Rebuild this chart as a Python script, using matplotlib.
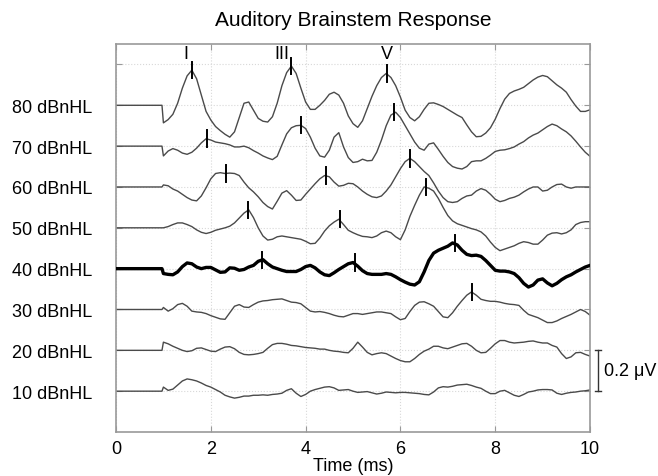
"""Auditory brainstem response waveforms stacked by stimulus level."""

from __future__ import annotations

import matplotlib

matplotlib.use('Agg')
import matplotlib.pyplot as plt
import matplotlib.transforms as mtransforms
import numpy as np

plt.rcParams['font.family'] = ['Liberation Sans', 'DejaVu Sans']

# Amplitudes are in units of the scale bar (1 unit = 0.2 uV), one sample every 0.1 ms.
ONSET_MS = 0.97
TIME_MS = np.round(np.arange(1.0, 10.001, 0.1), 1)
SCALE_UV = 0.2

LEVELS = ['80 dBnHL', '70 dBnHL', '60 dBnHL', '50 dBnHL',
          '40 dBnHL', '30 dBnHL', '20 dBnHL', '10 dBnHL']
HIGHLIGHT = '40 dBnHL'

WAVE_80 = [
    -0.43, -0.35, -0.22, 0.05, 0.42, 0.72, 0.86, 0.65, 0.25, -0.15,
    -0.36, -0.52, -0.62, -0.71, -0.78, -0.65, -0.30, 0.05, 0.08, -0.12,
    -0.32, -0.39, -0.41, -0.28, 0.05, 0.48, 0.80, 0.96, 0.78, 0.42,
    0.08, -0.10, -0.10, 0.00, 0.12, 0.27, 0.32, 0.25, 0.05, -0.26,
    -0.45, -0.54, -0.38, -0.08, 0.22, 0.48, 0.68, 0.78, 0.68, 0.48,
    0.20, -0.12, -0.30, -0.38, -0.28, -0.10, 0.05, 0.06, 0.02, -0.03,
    -0.10, -0.17, -0.24, -0.30, -0.48, -0.65, -0.77, -0.76, -0.68, -0.55,
    -0.34, -0.08, 0.15, 0.29, 0.35, 0.39, 0.44, 0.53, 0.62, 0.69,
    0.73, 0.70, 0.60, 0.50, 0.42, 0.32, 0.14, -0.02, -0.15, -0.15,
    -0.11,
]
WAVE_70 = [
    -0.24, -0.12, -0.06, -0.10, -0.17, -0.20, -0.15, -0.05, 0.08, 0.18,
    0.15, 0.10, 0.08, 0.06, 0.03, -0.02, -0.02, 0.00, -0.04, -0.11,
    -0.17, -0.24, -0.29, -0.33, -0.25, 0.03, 0.30, 0.45, 0.50, 0.51,
    0.43, 0.22, -0.05, -0.24, -0.27, -0.10, 0.22, 0.33, -0.02, -0.28,
    -0.40, -0.38, -0.32, -0.36, -0.35, -0.15, 0.15, 0.50, 0.76, 0.83,
    0.70, 0.50, 0.30, 0.10, -0.05, -0.10, 0.05, 0.08, -0.08, -0.25,
    -0.40, -0.50, -0.54, -0.56, -0.50, -0.38, -0.36, -0.36, -0.30, -0.22,
    -0.13, -0.10, -0.09, -0.06, -0.02, 0.05, 0.11, 0.20, 0.27, 0.32,
    0.40, 0.48, 0.54, 0.50, 0.42, 0.35, 0.25, 0.12, -0.02, -0.15,
    -0.25,
]
WAVE_60 = [
    0.05, 0.03, -0.05, -0.10, -0.18, -0.26, -0.32, -0.34, -0.22, -0.02,
    0.20, 0.33, 0.35, 0.33, 0.34, 0.33, 0.28, 0.12, -0.02, -0.12,
    -0.24, -0.38, -0.48, -0.54, -0.35, -0.15, -0.09, -0.20, -0.33, -0.32,
    -0.18, -0.05, 0.08, 0.20, 0.28, 0.25, 0.12, 0.02, 0.04, 0.09,
    0.08, 0.00, -0.10, -0.18, -0.24, -0.26, -0.22, -0.10, 0.05, 0.25,
    0.45, 0.62, 0.70, 0.62, 0.50, 0.38, 0.28, 0.10, -0.10, -0.26,
    -0.36, -0.38, -0.36, -0.28, -0.22, -0.20, -0.10, -0.04, -0.08, -0.18,
    -0.30, -0.36, -0.33, -0.28, -0.25, -0.20, -0.12, -0.05, 0.00, 0.00,
    -0.10, -0.08, 0.00, 0.06, 0.07, 0.00, -0.03, 0.00, 0.00, 0.00,
    0.00,
]
WAVE_50 = [
    0.00, 0.03, 0.08, 0.12, 0.12, 0.08, 0.03, -0.05, -0.11, -0.14,
    -0.11, -0.06, -0.03, 0.00, 0.04, 0.12, 0.24, 0.36, 0.44, 0.25,
    0.00, -0.20, -0.30, -0.28, -0.22, -0.20, -0.22, -0.24, -0.26, -0.28,
    -0.33, -0.39, -0.38, -0.25, -0.08, 0.05, 0.14, 0.21, 0.08, -0.06,
    -0.12, -0.17, -0.21, -0.22, -0.24, -0.20, -0.12, -0.08, -0.12, -0.22,
    -0.29, -0.05, 0.28, 0.55, 0.80, 1.00, 0.97, 0.90, 0.72, 0.50,
    0.30, 0.17, 0.10, 0.06, 0.02, -0.02, -0.05, -0.10, -0.20, -0.35,
    -0.48, -0.56, -0.52, -0.48, -0.44, -0.38, -0.34, -0.36, -0.40, -0.40,
    -0.30, -0.18, -0.13, -0.12, -0.15, -0.12, -0.05, 0.08, 0.13, 0.15,
    0.15,
]
WAVE_40 = [
    -0.12, -0.14, -0.15, -0.08, 0.05, 0.14, 0.12, 0.04, 0.00, 0.03,
    0.03, -0.03, -0.09, -0.08, 0.02, 0.01, -0.04, -0.02, 0.04, 0.08,
    0.18, 0.22, 0.12, 0.04, 0.00, -0.04, -0.07, -0.07, -0.07, -0.02,
    0.05, 0.08, 0.02, -0.08, -0.15, -0.17, -0.10, -0.02, 0.05, 0.12,
    0.15, 0.06, -0.05, -0.12, -0.14, -0.14, -0.14, -0.12, -0.14, -0.20,
    -0.27, -0.33, -0.38, -0.40, -0.32, -0.08, 0.20, 0.38, 0.45, 0.50,
    0.55, 0.63, 0.58, 0.45, 0.35, 0.32, 0.33, 0.30, 0.20, 0.08,
    -0.04, -0.06, -0.06, -0.08, -0.12, -0.22, -0.36, -0.45, -0.40, -0.28,
    -0.25, -0.35, -0.42, -0.36, -0.27, -0.20, -0.15, -0.08, -0.02, 0.04,
    0.08,
]
WAVE_30 = [
    0.05, -0.04, 0.02, 0.12, 0.15, 0.08, -0.04, -0.06, -0.07, -0.10,
    -0.15, -0.19, -0.23, -0.24, -0.08, 0.08, 0.12, 0.06, 0.05, 0.12,
    0.18, 0.21, 0.22, 0.24, 0.25, 0.26, 0.22, 0.18, 0.17, 0.14,
    0.05, -0.04, -0.06, -0.05, -0.07, -0.10, -0.14, -0.17, -0.18, -0.14,
    -0.10, -0.10, -0.12, -0.10, -0.08, -0.06, -0.06, -0.08, -0.10, -0.18,
    -0.25, -0.22, -0.05, 0.10, 0.18, 0.19, 0.14, 0.08, -0.05, -0.18,
    -0.20, -0.08, 0.08, 0.22, 0.35, 0.43, 0.35, 0.25, 0.22, 0.20,
    0.20, 0.18, 0.15, 0.13, 0.12, 0.10, -0.02, -0.12, -0.16, -0.20,
    -0.26, -0.32, -0.32, -0.28, -0.22, -0.17, -0.12, -0.06, 0.00, -0.05,
    -0.14,
]
WAVE_20 = [
    0.20, 0.16, 0.10, 0.05, 0.00, -0.03, -0.01, 0.05, 0.06, 0.02,
    -0.02, -0.03, 0.03, 0.08, 0.09, 0.04, -0.05, -0.10, -0.11, -0.10,
    -0.08, -0.05, 0.05, 0.14, 0.17, 0.17, 0.15, 0.12, 0.11, 0.09,
    0.07, 0.06, 0.05, 0.03, 0.03, 0.00, -0.02, -0.03, -0.05, -0.06,
    0.05, 0.20, 0.08, -0.05, -0.11, -0.08, -0.06, -0.08, -0.14, -0.20,
    -0.25, -0.28, -0.28, -0.20, -0.10, -0.02, 0.03, 0.10, 0.10, 0.06,
    0.04, 0.08, 0.12, 0.16, 0.17, 0.10, 0.00, -0.06, -0.05, 0.05,
    0.16, 0.24, 0.24, 0.20, 0.18, 0.19, 0.20, 0.22, 0.23, 0.20,
    0.18, 0.18, 0.12, 0.08, -0.08, -0.20, -0.16, -0.06, -0.05, -0.10,
    -0.14,
]
WAVE_10 = [
    0.10, 0.02, 0.05, 0.15, 0.25, 0.30, 0.28, 0.25, 0.20, 0.14,
    0.10, 0.04, -0.02, -0.10, -0.14, -0.17, -0.15, -0.12, -0.12, -0.10,
    -0.10, -0.09, -0.10, -0.08, -0.07, -0.05, 0.02, 0.06, -0.05, -0.13,
    -0.08, 0.00, 0.04, 0.07, 0.10, 0.11, 0.08, 0.02, 0.03, 0.04,
    0.00, -0.03, -0.02, -0.01, -0.04, -0.07, -0.05, -0.02, -0.03, -0.04,
    -0.03, -0.03, -0.04, -0.05, -0.06, -0.08, -0.09, -0.02, 0.08, 0.11,
    0.10, 0.12, 0.15, 0.16, 0.17, 0.14, 0.10, 0.07, 0.00, -0.06,
    -0.06, 0.00, 0.02, -0.04, -0.10, -0.13, -0.08, -0.02, 0.00, 0.03,
    0.04, 0.04, 0.03, -0.05, -0.08, -0.05, -0.03, -0.02, 0.00, 0.01,
    0.03,
]
WAVES = [WAVE_80, WAVE_70, WAVE_60, WAVE_50, WAVE_40, WAVE_30, WAVE_20, WAVE_10]

# Picked peaks (latency ms, amplitude) per level
PEAK_TIMES = [
    [1.60, 3.70, 5.72],
    [1.93, 3.90, 5.87],
    [2.33, 4.44, 6.20],
    [2.79, 4.73, 6.54],
    [3.07, 5.04, 7.15],
    [7.52],
    [],
    [],
]
PEAK_AMPS = [
    [0.86, 0.96, 0.78],
    [0.19, 0.51, 0.83],
    [0.33, 0.28, 0.70],
    [0.44, 0.21, 1.00],
    [0.21, 0.15, 0.63],
    [0.43],
    [],
    [],
]
WAVE_NAMES = ['I', 'III', 'V']
WAVE_NAME_TIMES = [1.48, 3.50, 5.72]


def plot_abr(path: str = 'out.png') -> None:
    fig = plt.figure(figsize=(6.58, 4.77), dpi=100)
    ax = fig.add_axes([0.1763, 0.0922, 0.7204, 0.8134])

    n = len(LEVELS)
    offsets = list(range(n, 0, -1))
    times = np.concatenate([[0.0, ONSET_MS], TIME_MS])

    for level, wave, off, pt, pa in zip(LEVELS, WAVES, offsets, PEAK_TIMES, PEAK_AMPS):
        y = off + np.concatenate([[0.0, 0.0], np.asarray(wave)])
        if level == HIGHLIGHT:
            ax.plot(times, y, color='black', lw=2.4, zorder=3, solid_joinstyle='round')
        else:
            ax.plot(times, y, color='#4a4a4a', lw=1.0, zorder=2)
        for t, a in zip(pt, pa):
            ax.plot([t, t], [off + a - 0.2, off + a + 0.2], color='black', lw=1.4, zorder=4)

    for name, t in zip(WAVE_NAMES, WAVE_NAME_TIMES):
        ax.text(t, 9.26, name, ha='center', va='center', fontsize=13)

    ax.set_xlim(0, 10)
    ax.set_ylim(0, 9.5)
    ax.set_xticks([0, 2, 4, 6, 8, 10])
    ax.set_yticks(list(offsets) + [n + 1])
    ax.set_yticklabels(LEVELS + [''])
    ax.grid(True, color='#d8d8d8', linestyle=':', lw=0.8, zorder=0)
    ax.tick_params(axis='both', direction='in', top=True, right=True,
                   length=4, color='#999999', labelsize=13)
    ax.tick_params(axis='y', pad=17)
    ax.tick_params(axis='x', pad=6)
    for spine in ax.spines.values():
        spine.set_color('#999999')
        spine.set_linewidth(1.2)

    ax.set_title('Auditory Brainstem Response', fontsize=15, pad=14)
    ax.set_xlabel('Time (ms)', fontsize=13, labelpad=0)

    # Scale bar: one trace spacing equals SCALE_UV microvolts
    trans = mtransforms.blended_transform_factory(ax.transAxes, ax.transData)
    bar_x = 1.017
    cap = 0.007
    ax.plot([bar_x, bar_x], [1, 2], color='#333333', lw=1.0, transform=trans, clip_on=False)
    for yy in (1, 2):
        ax.plot([bar_x - cap, bar_x + cap], [yy, yy], color='#333333', lw=1.0,
                transform=trans, clip_on=False)
    ax.text(1.03, 1.5, f'{SCALE_UV} \u03bcV', transform=trans, ha='left', va='center', fontsize=13)

    fig.savefig(path, dpi=100)
    plt.close(fig)


def main() -> int:
    plot_abr('out.png')
    return 0


if __name__ == '__main__':
    raise SystemExit(main())
